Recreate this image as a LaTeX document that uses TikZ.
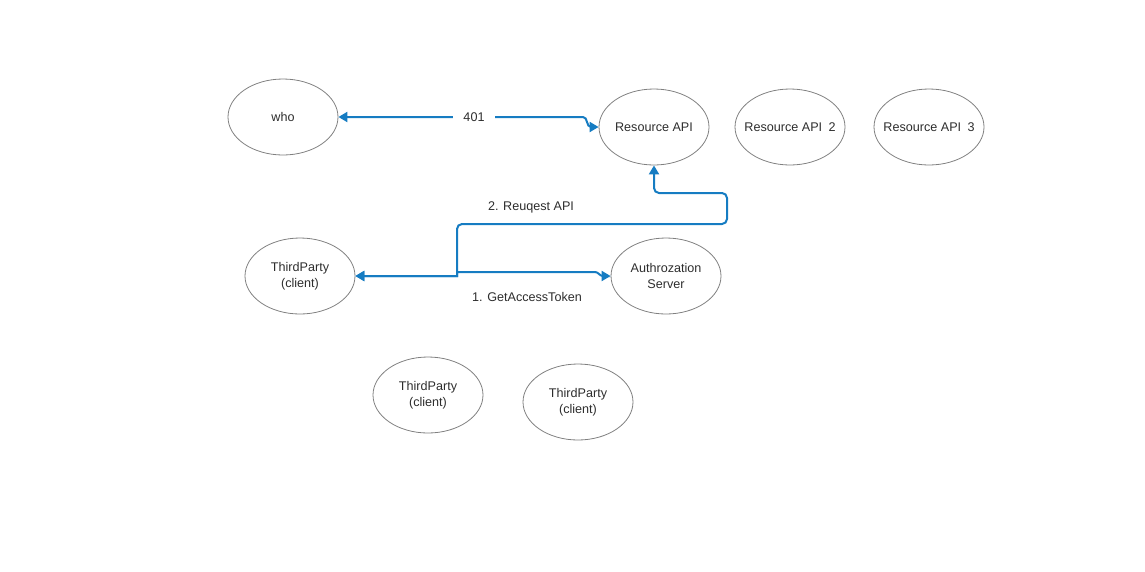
\documentclass[tikz,border=0pt]{standalone}
\usepackage{fontspec}
\setmainfont{Liberation Sans}
\usetikzlibrary{shapes.geometric, arrows.meta}

\definecolor{linkblue}{RGB}{22,124,194}
\definecolor{rimgray}{RGB}{128,128,128}
\definecolor{textgray}{RGB}{45,45,45}

\tikzset{
  party/.style={ellipse, draw=rimgray, line width=0.8pt, minimum width=110pt, minimum height=76pt,
    inner sep=0pt, align=center, text=textgray},
  link/.style={linkblue, line width=2pt,
    {Triangle[length=9pt,width=10pt]}-{Triangle[length=9pt,width=10pt]}},
  lbl/.style={text=textgray}
}

\begin{document}
\begin{tikzpicture}[x=1pt,y=-1pt,font=\fontsize{12.6}{16}\selectfont];
\useasboundingbox (0,0) rectangle (1145,571);

\node[party] (who) at (283,117) {who};
\node[party] (res) at (654,127) {Resource API};
\node[party] (res2) at (790,127) {\makebox[0pt]{Resource API\enspace2}};
\node[party] (res3) at (929,127) {\makebox[0pt]{Resource API\enspace3}};
\node[party] (client) at (300,276) {ThirdParty\\(client)};
\node[party] (auth) at (666,276) {Authrozation\\Server};
\node[party] (client2) at (428,395) {ThirdParty\\(client)};
\node[party] (client3) at (578,402) {ThirdParty\\(client)};

% 401
\draw[link] (who.east) -- (583,117) to[out=0,in=180] (591,127) -- (res.west);
\node[lbl, fill=white, inner xsep=10pt] (unauth) at (474,117) {401};

% 1. token, 2. request
\draw[link] (client.east) -- (457,276) -- (457,272) -- (595,272) to[out=0,in=180] (603,276) -- (auth.west);
\draw[link] (client.east) -- (457,276) [rounded corners=5pt] |- (727,224) |- (654,193) -- (res.south);
\node[lbl] (token) at (527,297) {1. GetAccessToken};
\node[lbl] (request) at (531,207) {2. Reuqest API};
\end{tikzpicture}
\end{document}
